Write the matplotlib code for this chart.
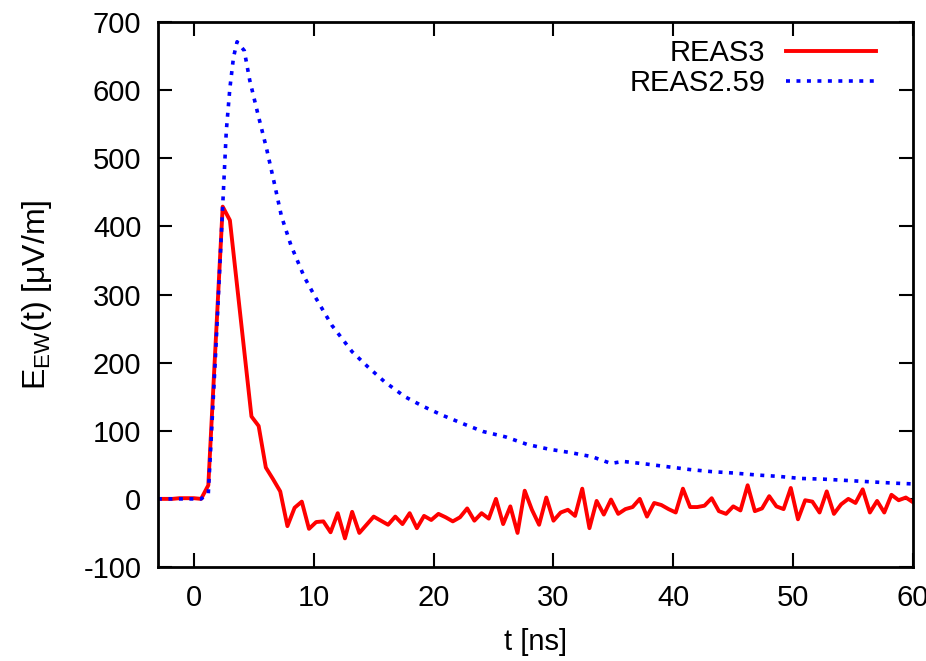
import matplotlib
matplotlib.use("Agg")
import matplotlib.pyplot as plt

plt.rcParams['font.family'] = ['Liberation Sans', 'DejaVu Sans']
plt.rcParams['mathtext.fontset'] = 'custom'
plt.rcParams['mathtext.rm'] = 'Liberation Sans'
plt.rcParams['mathtext.it'] = 'Liberation Sans:italic'
plt.rcParams['axes.unicode_minus'] = False

# REAS3 trace (0.6 ns sampling)
t_reas3 = [-3.0, -2.4, -1.8, -1.2, -0.6, 0.0, 0.6, 1.2, 1.8, 2.4,
           3.0, 3.6, 4.2, 4.8, 5.4, 6.0, 6.6, 7.2, 7.8, 8.4,
           9.0, 9.6, 10.2, 10.8, 11.4, 12.0, 12.6, 13.2, 13.8, 14.4,
           15.0, 15.6, 16.2, 16.8, 17.4, 18.0, 18.6, 19.2, 19.8, 20.4,
           21.0, 21.6, 22.2, 22.8, 23.4, 24.0, 24.6, 25.2, 25.8, 26.4,
           27.0, 27.6, 28.2, 28.8, 29.4, 30.0, 30.6, 31.2, 31.8, 32.4,
           33.0, 33.6, 34.2, 34.8, 35.4, 36.0, 36.6, 37.2, 37.8, 38.4,
           39.0, 39.6, 40.2, 40.8, 41.4, 42.0, 42.6, 43.2, 43.8, 44.4,
           45.0, 45.6, 46.2, 46.8, 47.4, 48.0, 48.6, 49.2, 49.8, 50.4,
           51.0, 51.6, 52.2, 52.8, 53.4, 54.0, 54.6, 55.2, 55.8, 56.4,
           57.0, 57.6, 58.2, 58.8, 59.4, 60.0]
e_reas3 = [0, 0, 0, 1, 1, 1, 0, 20, 225, 429,
           409, 313, 217, 121, 107, 46, 29, 11, -40, -13,
           -4, -44, -34, -33, -49, -21, -58, -19, -50, -38,
           -26, -32, -38, -26, -37, -21, -43, -25, -31, -22,
           -27, -33, -27, -14, -32, -21, -29, 0, -37, -11,
           -50, 12, -16, -38, 2, -32, -20, -16, -25, 15,
           -43, -3, -23, -1, -22, -15, -12, 0, -26, -6,
           -9, -15, -20, 15, -12, -12, -10, 1, -18, -22,
           -11, -17, 20, -18, -14, 4, -11, -15, 16, -30,
           -2, -4, -20, 11, -22, -8, 0, -6, 14, -20,
           -3, -20, 6, -2, 2, -5]

# REAS2.59 trace
t_reas259 = [-3.0, 0.6, 1.2, 1.8, 2.4, 2.7, 3.0, 3.3, 3.6, 4.2,
             4.65, 5.35, 6.05, 6.7, 7.3, 8.1, 9.2, 10.1, 11.5, 13.2,
             14.5, 15.9, 17.6, 19.1, 20.7, 22.5, 24.1, 26.0, 27.8, 29.6,
             31.4, 33.2, 34.8, 35.8, 37.8, 39.6, 41.4, 43.2, 45.0, 47.0,
             48.8, 50.6, 52.5, 54.5, 56.5, 58.5, 60.0]
e_reas259 = [0, 0, 8, 210, 430, 540, 603, 648, 671, 658,
             615, 564, 515, 464, 415, 372, 326, 297, 255, 216,
             194, 172, 150, 136, 123, 110, 99, 91, 80, 73,
             68, 62, 52, 55, 51, 47, 43, 40, 38, 35,
             33, 30, 29, 27, 25, 23, 22]

x_ticks = [0, 10, 20, 30, 40, 50, 60]
y_ticks = [-100, 0, 100, 200, 300, 400, 500, 600, 700]

FS = 21

fig = plt.figure(figsize=(9.26, 6.61), dpi=100)
ax = fig.add_axes([0.1706, 0.1422, 0.8154, 0.8245])

ax.plot(t_reas3, e_reas3, color='#ff0000', lw=2.8, label='REAS3')
ax.plot(t_reas259, e_reas259, color='#0000ff', lw=2.6,
        linestyle=(0, (1.1, 1.8)), label='REAS2.59')

ax.set_xlim(-3, 60)
ax.set_ylim(-100, 700)
ax.set_xticks(x_ticks)
ax.set_yticks(y_ticks)
ax.tick_params(direction='in', length=10, width=1.5, top=True, right=True,
               labelsize=FS)
ax.tick_params(axis='x', pad=12)
ax.tick_params(axis='y', pad=12)
for s in ax.spines.values():
    s.set_linewidth(2)

ax.set_xlabel('t [ns]', fontsize=FS, labelpad=12)
ax.set_ylabel(r'E$_{\mathrm{EW}}$(t) [μV/m]', fontsize=23, labelpad=21)

leg = ax.legend(loc='upper right', bbox_to_anchor=(0.967, 0.99),
                borderaxespad=0, frameon=False, fontsize=FS,
                markerfirst=False, handlelength=3.1, handletextpad=0.7,
                labelspacing=0.07)

fig.savefig('out.png', dpi=100)
